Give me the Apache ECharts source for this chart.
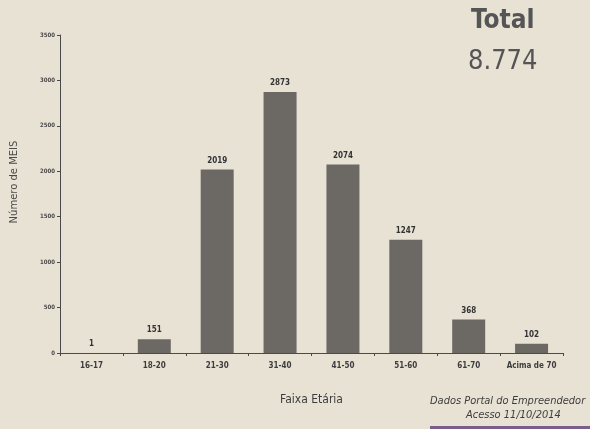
<!DOCTYPE html>
<html><head><meta charset="utf-8">
<script src="https://cdn.jsdelivr.net/npm/echarts@6/dist/echarts.min.js"></script>
<style>html,body{margin:0;padding:0;background:#e8e2d5;}#c{width:590px;height:429px;}</style>
</head><body><div id="c"></div>
<script>
const categories = ['16-17','18-20','21-30','31-40','41-50','51-60','61-70','Acima de 70'];
const values = [1, 151, 2019, 2873, 2074, 1247, 368, 102];
const yTicks = [0, 500, 1000, 1500, 2000, 2500, 3000, 3500];
const totalText = ['Total', '8.774'];
const yTitle = 'Número de MEIS';
const xTitle = 'Faixa Etária';
const sourceLines = ['Dados Portal do Empreendedor', 'Acesso 11/10/2014'];

const narrow = "'Liberation Sans Narrow','DejaVu Sans Condensed',sans-serif";
const chart = echarts.init(document.getElementById('c'));
chart.setOption({
  backgroundColor: '#e8e2d5',
  animation: false,
  grid: {left: 60, right: 27, top: 35, bottom: 76},
  xAxis: {
    type: 'category', data: categories,
    axisLine: {lineStyle: {color: '#4a4a4a', width: 1}},
    axisTick: {show: true, lineStyle: {color: '#4a4a4a'}, length: 3},
    axisLabel: {color: '#3d3d3d', fontSize: 8, fontWeight: 'bold', fontFamily: narrow, margin: 9, interval: 0},
    name: xTitle, nameLocation: 'middle', nameGap: 41,
    nameTextStyle: {color: '#3d3d3d', fontSize: 12, fontFamily: narrow}
  },
  yAxis: {
    type: 'value', min: yTicks[0], max: yTicks[yTicks.length-1], interval: 500,
    axisLine: {show: true, lineStyle: {color: '#4a4a4a'}},
    axisTick: {show: true, length: 3, lineStyle: {color: '#4a4a4a'}},
    splitLine: {show: false},
    axisLabel: {color: '#4a4a4a', fontSize: 6, fontWeight: 'bold', fontFamily: narrow, margin: 5, formatter: v => String(v)}
  },
  series: [{
    type: 'bar', data: values, barWidth: 33,
    itemStyle: {color: '#6c6864'},
    label: {show: true, position: 'top', distance: 5, color: '#333', fontSize: 8, fontWeight: 'bold', fontFamily: narrow}
  }],
  graphic: [
    {type: 'text', x: 14, y: 182, rotation: Math.PI / 2,
     style: {text: yTitle, fill: '#4a4a4a', font: "10px 'DejaVu Sans',sans-serif", align: 'center', verticalAlign: 'middle'}},
    {type: 'text', left: 471, top: 8, style: {text: totalText[0], fill: '#555', font: "bold 26px 'Liberation Sans Narrow','DejaVu Sans Condensed',sans-serif"}},
    {type: 'text', left: 468, top: 48, style: {text: totalText[1], fill: '#555', font: "27px 'Liberation Sans Narrow','DejaVu Sans Condensed',sans-serif"}},
    {type: 'text', left: 430, top: 396, style: {text: sourceLines[0], fill: '#3d3d3d', font: "italic 11px 'Liberation Sans Narrow','DejaVu Sans Condensed',sans-serif"}},
    {type: 'text', left: 466, top: 410, style: {text: sourceLines[1], fill: '#3d3d3d', font: "italic 11px 'Liberation Sans Narrow','DejaVu Sans Condensed',sans-serif"}},
    {type: 'rect', left: 430, top: 426, shape: {width: 160, height: 3}, style: {fill: '#7a5f8e'}}
  ]
});
</script></body></html>
